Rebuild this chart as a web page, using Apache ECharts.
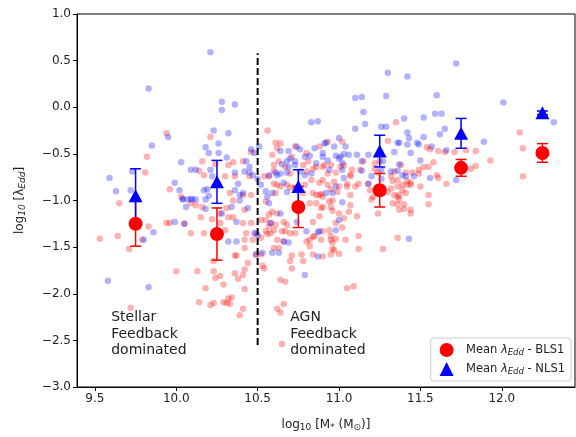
<!DOCTYPE html>
<html>
<head>
<meta charset="utf-8">
<script src="https://cdn.jsdelivr.net/npm/echarts@6/dist/echarts.min.js"></script>
<style>
  html, body { margin: 0; padding: 0; background: #fff; }
  #chart { width: 576px; height: 437px; }
</style>
</head>
<body>
<div id="chart"></div>
<script>
// individual sources: [log10 M*, log10 lambda_Edd]
const blsPoints = [
  [9.94,-0.28],[9.82,-0.53],[9.81,-0.70],[10.21,-0.32],[10.24,-0.61],[10.16,-0.58],[10.14,-0.68],[10.17,-0.73],
  [10.32,-0.62],[10.35,-0.59],[10.41,-0.58],[10.30,-0.74],[10.36,-0.74],[10.45,-0.74],[9.96,-0.88],[10.03,-0.96],
  [10.41,-0.94],[10.46,-0.94],[10.56,-0.25],[10.61,-0.38],[10.64,-0.39],[10.62,-0.44],[10.73,-0.42],[10.71,-0.53],
  [10.60,-0.62],[10.63,-0.58],[10.67,-0.64],[10.54,-0.74],[10.60,-0.82],[10.62,-0.83],[10.64,-0.85],[10.78,-0.62],
  [10.81,-0.58],[10.86,-0.64],[10.88,-0.42],[10.91,-0.62],[10.83,-0.78],[10.88,-0.81],[10.90,-0.78],[10.84,-0.92],
  [10.78,-0.92],[10.89,-0.93],
  [9.65,-1.03],[9.53,-1.41],[9.64,-1.38],[9.71,-1.52],[9.83,-1.28],[9.79,-1.42],[9.94,-1.24],[9.96,-1.24],
  [10.05,-1.25],[10.09,-1.35],[10.17,-1.35],[10.15,-1.18],[10.22,-1.20],[10.12,-1.05],[10.16,-1.07],[10.09,-1.03],
  [10.00,-1.76],[10.13,-1.76],[10.23,-1.76],[10.24,-1.83],[10.27,-1.81],[10.23,-1.65],[10.18,-1.94],[10.21,-2.12],
  [10.23,-2.10],[10.14,-2.09],[10.29,-2.09],[10.32,-2.05],[10.34,-2.04],[10.31,-2.10],[10.33,-2.11],[10.29,-1.90],
  [10.36,-1.78],[10.38,-1.84],[10.41,-1.80],[10.36,-1.59],[10.37,-1.59],[10.44,-1.67],[10.42,-1.74],[10.42,-1.95],
  [10.41,-2.16],[10.39,-2.23],[10.42,-1.42],[10.47,-1.42],[10.42,-1.10],[10.49,-1.35],[10.49,-1.58],[10.30,-1.32],
  [10.27,-1.24],[10.53,-1.70],[10.54,-1.73],[10.56,-1.36],[10.57,-1.28],[10.60,-1.32],[10.65,-1.33],[10.67,-1.33],
  [10.71,-1.59],[10.70,-1.65],[10.71,-1.73],[10.78,-1.65],[10.64,-1.85],[10.67,-1.87],[10.66,-2.11],[10.62,-2.16],
  [10.64,-2.20],[10.65,-2.54],[9.72,-2.15],[10.85,-1.38],[10.82,-1.42],[10.84,-1.23],[10.89,-1.42],[10.63,-1.51],
  [10.66,-1.44],[10.62,-1.14],[10.57,-1.15],[10.55,-1.01],[10.52,-1.21],[10.86,-0.94],[10.82,-1.03],[10.89,-1.08],
  [10.88,-1.17],
  [11.35,-0.16],[11.30,-0.36],[11.54,-0.43],[11.56,-0.45],[11.61,-0.47],[11.65,-0.48],[11.71,-0.48],[11.78,-0.46],
  [11.84,-0.47],[11.93,-0.57],[12.11,-0.27],[12.13,-0.44],[12.13,-0.74],[11.84,-0.63],[11.81,-0.66],[11.38,-0.62],
  [11.58,-0.59],[11.55,-0.64],[11.52,-0.64],[11.49,-0.67],[11.45,-0.70],[11.41,-0.70],[11.60,-0.73],[11.61,-0.76],
  [11.66,-0.82],[11.36,-0.78],[11.32,-0.74],[11.33,-0.79],[11.42,-0.79],[11.44,-0.83],[11.50,-0.85],[11.55,-0.94],
  [11.39,-0.89],[11.37,-0.94],[11.30,-0.91],[11.18,-0.82],[11.19,-0.89],[11.08,-0.67],[11.07,-0.72],[10.98,-0.70],
  [10.93,-0.71],[10.90,-0.64],[10.95,-0.62],[11.01,-0.64],[11.05,-0.82],[11.12,-0.82],[10.97,-0.80],[10.99,-0.91],
  [10.93,-0.37],[11.02,-0.37],[11.21,-0.96],
  [11.07,-0.94],[11.07,-1.05],[10.96,-1.00],[10.90,-1.07],[10.96,-1.11],[11.00,-1.14],[11.06,-1.12],[11.11,-1.17],
  [10.98,-1.24],[11.02,-1.29],[11.03,-1.19],[10.90,-1.33],[10.95,-1.38],[10.98,-1.41],[10.96,-1.45],[11.04,-1.42],
  [11.12,-1.38],[11.12,-1.52],[10.96,-1.52],[11.00,-1.57],[11.27,-1.52],[11.36,-1.40],[11.24,-1.14],[11.33,-1.03],
  [11.37,-0.99],[11.37,-1.10],[11.40,-1.09],[11.44,-1.14],[11.55,-1.04],[11.05,-1.94],[11.09,-1.92],
  [10.33,-0.92],[10.35,-1.00],[10.31,-1.08],[10.27,-1.14],[10.32,-1.18],[10.35,-1.18],
  [10.46,-0.48],[10.59,-0.51],[10.80,-0.49],[10.84,-0.66],[10.80,-0.69],[10.60,-0.68],[10.57,-0.74],[10.70,-0.71],
  [11.15,-0.58],[11.22,-0.60],[11.25,-0.58],[11.03,-0.62],[11.13,-0.67],[11.07,-0.74],[11.22,-0.66],[11.24,-0.70],
  [11.34,-0.69],[11.49,-0.71],
  [10.61,-0.92],[10.68,-0.83],[10.70,-0.86],[10.73,-0.86],[10.79,-0.83],[10.93,-0.83],[10.95,-0.88],[10.88,-0.94],
  [10.90,-0.96],[10.86,-1.03],[10.94,-1.01],[10.95,-1.07],[10.59,-1.12],[10.55,-1.21],[10.58,-1.24],[10.61,-1.26],
  [10.66,-1.23],[10.68,-1.26],[10.70,-1.35],[10.73,-1.35],[10.41,-1.24],[10.46,-1.24],[10.43,-1.35],[10.55,-1.33],
  [10.58,-1.35],[10.52,-1.40],[10.62,-1.42],[10.60,-1.51],[10.42,-1.51],[10.80,-1.44],[10.82,-1.49],[10.84,-1.39],
  [10.95,-1.42],[10.97,-1.53],[10.94,-1.32],[10.77,-1.58],[10.84,-1.58],[10.90,-1.60],[10.95,-1.58],[10.52,-1.58],
  [11.00,-0.85],[11.05,-0.85],[11.10,-0.85],[11.20,-0.99],[11.32,-0.87],[11.36,-0.85],[11.39,-0.83],[11.42,-0.83],
  [11.44,-0.81],[11.34,-0.94],[11.36,-0.96],[11.41,-0.92],[11.36,-1.04],[11.40,-1.04],[11.44,-1.10]
];

const nlsPoints = [
  [10.21,0.59],[9.83,0.20],[10.28,0.06],[10.28,-0.03],[10.36,0.03],[9.95,-0.32],[9.85,-0.41],[10.23,-0.25],
  [10.32,-0.28],[10.18,-0.43],[10.26,-0.39],[10.20,-0.49],[10.31,-0.54],[10.03,-0.59],[9.59,-0.76],[9.63,-0.90],
  [9.73,-0.69],[9.72,-0.89],[9.99,-0.81],[10.02,-0.89],[10.09,-0.67],[10.12,-0.67],[10.21,-0.67],[10.22,-0.74],
  [10.17,-0.89],[10.19,-0.88],[10.36,-0.70],[10.38,-0.82],[10.43,-0.58],[10.46,-0.45],[10.51,-0.42],[10.48,-0.49],
  [10.45,-0.64],[10.47,-0.73],[10.50,-0.77],[10.57,-0.73],[10.55,-0.90],[10.64,-0.47],[10.62,-0.73],[10.66,-0.81],
  [10.69,-0.47],[10.70,-0.55],[10.74,-0.42],[10.73,-0.58],[10.68,-0.91],[10.79,-0.53],[10.82,-0.52],[10.83,-0.16],
  [10.87,-0.15],[10.85,-0.44],[10.91,-0.39],[10.90,-0.53],[10.86,-0.60],[10.83,-0.71],
  [9.58,-1.86],[9.83,-1.93],[9.86,-1.34],[9.80,-1.42],[9.99,-1.23],[10.06,-1.07],[10.04,-0.98],[10.09,-0.98],
  [10.18,-1.09],[10.28,-1.14],[10.34,-1.07],[10.39,-1.00],[10.44,-1.08],[10.37,-1.23],[10.32,-1.44],[10.37,-1.44],
  [10.41,-0.92],[10.53,-1.56],[10.58,-1.24],[10.64,-1.14],[10.69,-1.45],[10.66,-1.44],[10.59,-1.56],[10.63,-1.56],
  [10.74,-1.23],[10.79,-1.80],[10.87,-1.60],[10.87,-1.34],[10.48,-1.35],
  [11.72,0.47],[11.30,0.37],[11.42,0.33],[11.10,0.10],[11.14,0.11],[11.29,0.12],[11.60,0.13],[12.01,0.05],
  [12.32,-0.16],[11.15,-0.05],[11.10,-0.23],[11.16,-0.18],[11.26,-0.21],[11.29,-0.21],[11.40,-0.12],[11.52,-0.11],
  [11.59,-0.07],[11.63,-0.07],[11.65,-0.23],[11.62,-0.29],[11.42,-0.27],[11.43,-0.33],[11.52,-0.32],[11.36,-0.38],
  [11.37,-0.38],[11.42,-0.40],[11.48,-0.38],[11.49,-0.40],[11.57,-0.42],[11.89,-0.37],[11.34,-0.48],[11.27,-0.58],
  [11.18,-0.51],[11.11,-0.51],[11.06,-0.51],[11.00,-0.33],[10.92,-0.38],[10.97,-0.42],[11.04,-0.42],[10.90,-0.49],
  [10.98,-0.52],[11.01,-0.53],[11.14,-0.58],[11.02,-0.60],[11.14,-0.68],[11.20,-0.74],[11.36,-0.68],[11.46,-0.74],
  [11.50,-0.57],[11.56,-0.76],[11.41,-0.74],[11.72,-0.78],[10.98,-0.85],[11.27,-0.92],[10.92,-0.92],[10.96,-0.92],
  [11.02,-1.02],[11.00,-1.21],[10.98,-1.32],[11.43,-1.41],
  [10.26,-0.49],[10.20,-0.95],[10.18,-0.99],[10.04,-0.99],[10.07,-0.99],[10.10,-0.99],[10.12,-0.99],[10.36,-0.89],
  [10.39,-0.94],[10.05,-1.25],
  [10.76,-0.45],[10.45,-0.70],[10.65,-0.61],[10.68,-0.58],[10.69,-0.64],[10.73,-0.62],[10.93,-0.57],[10.94,-0.67],
  [10.61,-0.70],[10.64,-0.71],[10.68,-0.70],[10.76,-0.69],[10.79,-0.73],[10.42,-0.69],
  [11.03,-0.50],[11.44,-0.49],[11.00,-0.55],[11.37,-0.61],[11.02,-0.67],[11.26,-0.67],[11.32,-0.69],[11.26,-0.77],
  [11.39,-0.73],[11.03,-0.76],
  [10.52,-0.83],[10.59,-0.92],[10.56,-0.96],[10.57,-1.03],[10.50,-1.37],[10.80,-1.33],[10.88,-1.33],[10.49,-1.58],
  [11.18,-0.82],[11.66,-0.46]
];

// binned means with errors
const binCenters = [9.75, 10.25, 10.75, 11.25, 11.75, 12.25];
const blsMean = [-1.25, -1.36, -1.07, -0.89, -0.65, -0.49];
const blsErr = [0.24, 0.28, 0.22, 0.18, 0.09, 0.10];
const nlsMean = [-0.95, -0.80, -0.85, -0.47, -0.28, -0.06];
const nlsErr = [0.29, 0.23, 0.18, 0.17, 0.16, 0.02];

const xTicks = [9.5, 10.0, 10.5, 11.0, 11.5, 12.0];
const dividerLine = [[10.5, -2.55], [10.5, 0.58]];
const notes = [
  { x: 9.60, y: -2.17, text: 'Stellar\nFeedback\ndominated' },
  { x: 10.70, y: -2.17, text: 'AGN\nFeedback\ndominated' }
];

const FONT = 'DejaVu Sans';
const TXT = '#222';
const subStyle = { fontFamily: FONT, fontSize: 9, color: TXT, padding: [6, 0, 0, 0] };
const mainStyle = { fontFamily: FONT, fontSize: 12, color: TXT };

const chart = echarts.init(document.getElementById('chart'), null, { renderer: 'canvas' });

function errorBars(name, color, means, errs) {
  return {
    type: 'custom',
    name: name,
    silent: true,
    z: 5,
    encode: { x: 0, y: [1, 2] },
    data: binCenters.map((x, i) => [x, means[i] - errs[i], means[i] + errs[i]]),
    renderItem: function (params, api) {
      const top = api.coord([api.value(0), api.value(2)]);
      const bot = api.coord([api.value(0), api.value(1)]);
      const hw = 5.5;
      const st = { stroke: color, lineWidth: 1.5 };
      return {
        type: 'group',
        children: [
          { type: 'line', shape: { x1: top[0], y1: top[1], x2: bot[0], y2: bot[1] }, style: st },
          { type: 'line', shape: { x1: top[0] - hw, y1: top[1], x2: top[0] + hw, y2: top[1] }, style: st },
          { type: 'line', shape: { x1: bot[0] - hw, y1: bot[1], x2: bot[0] + hw, y2: bot[1] }, style: st }
        ]
      };
    }
  };
}

const option = {
  animation: false,
  backgroundColor: '#fff',
  grid: {
    left: 77, right: 1, top: 14, bottom: 50,
    show: true, borderColor: '#000', borderWidth: 1, backgroundColor: 'transparent'
  },
  xAxis: {
    type: 'value',
    min: 9.39,
    max: 12.45,
    name: '{n|log}{s|10}{n| [M}{s|*}{n| (M}{s|⊙}{n|)]}',
    nameLocation: 'middle',
    nameGap: 30,
    nameTextStyle: { rich: { n: mainStyle, s: subStyle } },
    axisLine: { show: true, onZero: false, lineStyle: { color: '#000', width: 1 } },
    axisTick: { show: true, inside: false, length: 4, customValues: xTicks, lineStyle: { color: '#000' } },
    axisLabel: {
      customValues: xTicks, margin: 6,
      fontFamily: FONT, fontSize: 12, color: TXT,
      formatter: v => v.toFixed(1)
    },
    splitLine: { show: false }
  },
  yAxis: {
    type: 'value',
    min: -3, max: 1, interval: 0.5,
    name: '{n|log}{s|10}{n| [λ}{s|Edd}{n|]}',
    nameLocation: 'middle',
    nameGap: 50,
    nameRotate: 90,
    nameTextStyle: { rich: { n: mainStyle, s: Object.assign({}, subStyle, { fontStyle: 'italic' }) } },
    axisLine: { show: true, onZero: false, lineStyle: { color: '#000', width: 1 } },
    axisTick: { show: true, inside: false, length: 4, lineStyle: { color: '#000' } },
    axisLabel: {
      margin: 6, fontFamily: FONT, fontSize: 12, color: TXT,
      formatter: v => v.toFixed(1).replace('-', '\u2212')
    },
    splitLine: { show: false }
  },
  legend: {
    orient: 'vertical',
    right: 5,
    bottom: 56,
    padding: [5, 6, 5, 9],
    itemGap: 5,
    itemWidth: 14,
    itemHeight: 14,
    backgroundColor: 'rgba(255,255,255,0.8)',
    borderColor: '#ccc',
    borderWidth: 1,
    borderRadius: 3,
    data: [
      { name: 'Mean λEdd - BLS1', icon: 'circle' },
      { name: 'Mean λEdd - NLS1', icon: 'triangle' }
    ],
    formatter: name => '{n|  Mean }{i|λ}{s|Edd}{n|' + name.slice(9) + '}',
    textStyle: {
      rich: {
        n: { fontFamily: FONT, fontSize: 11.5, color: TXT },
        i: { fontFamily: FONT, fontSize: 11.5, color: TXT, fontStyle: 'italic' },
        s: { fontFamily: FONT, fontSize: 8.5, color: TXT, fontStyle: 'italic', padding: [5, 0, 0, 0] }
      }
    }
  },
  graphic: [],
  series: [
    {
      name: 'BLS1',
      type: 'scatter',
      symbol: 'circle',
      symbolSize: 6.5,
      itemStyle: { color: 'red', opacity: 0.3 },
      data: blsPoints,
      z: 1,
      silent: true
    },
    {
      name: 'NLS1',
      type: 'scatter',
      symbol: 'circle',
      symbolSize: 6.5,
      itemStyle: { color: 'blue', opacity: 0.3 },
      data: nlsPoints,
      z: 2,
      silent: true
    },
    {
      name: 'divider',
      type: 'line',
      data: dividerLine,
      symbol: 'none',
      lineStyle: { color: '#000', width: 2, type: [7, 3] },
      z: 3,
      silent: true
    },
    errorBars('BLS1 err', 'red', blsMean, blsErr),
    {
      name: 'Mean λEdd - BLS1',
      type: 'scatter',
      symbol: 'circle',
      symbolSize: 14,
      itemStyle: { color: 'red', opacity: 1 },
      data: binCenters.map((x, i) => [x, blsMean[i]]),
      z: 6
    },
    errorBars('NLS1 err', 'blue', nlsMean, nlsErr),
    {
      name: 'Mean λEdd - NLS1',
      type: 'scatter',
      symbol: 'triangle',
      symbolSize: [14, 13],
      itemStyle: { color: 'blue', opacity: 1 },
      data: binCenters.map((x, i) => [x, nlsMean[i]]),
      z: 7
    }
  ]
};

chart.setOption(option);

// region annotations placed through the axes
chart.setOption({
  graphic: notes.map(n => {
    const p = chart.convertToPixel({ gridIndex: 0 }, [n.x, n.y]);
    return {
      type: 'text',
      x: p[0],
      y: p[1],
      z: 10,
      style: {
        text: n.text,
        fontFamily: FONT,
        fontSize: 14,
        lineHeight: 16.5,
        fill: TXT,
        textAlign: 'left',
        textVerticalAlign: 'top'
      }
    };
  })
});
</script>
</body>
</html>
